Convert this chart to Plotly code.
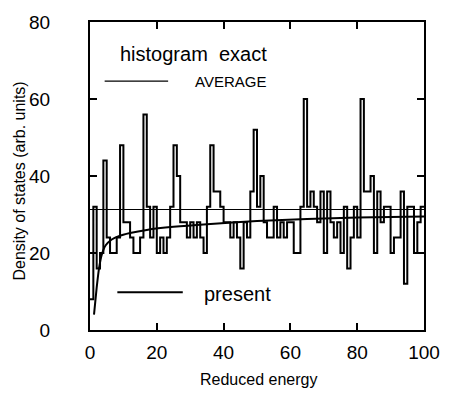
import plotly.graph_objects as go
import numpy as np

# ---- data ----
bin_edges = list(range(0, 101))  # reduced energy bin edges (bin width 1)
histogram_exact = [
    8, 32, 16, 20, 44, 24, 20, 20, 24, 48,
    28, 28, 24, 20, 20, 24, 56, 32, 24, 32,
    20, 24, 20, 24, 32, 48, 40, 28, 28, 24,
    28, 24, 28, 24, 20, 32, 48, 36, 36, 32,
    28, 28, 24, 28, 24, 16, 28, 24, 36, 52,
    32, 40, 28, 24, 24, 32, 24, 28, 24, 28,
    28, 20, 20, 32, 60, 32, 36, 32, 28, 36,
    20, 36, 28, 24, 28, 20, 32, 16, 24, 32,
    24, 60, 36, 36, 40, 20, 36, 28, 32, 32,
    20, 24, 24, 36, 12, 32, 32, 20, 28, 32,
]
average_value = 31.3
present_x = [1.2, 1.6, 2.0, 2.7, 3.5, 4.7, 6.5, 8.6, 12, 17, 25, 35, 50, 65, 80, 100]
present_y = [4.0, 7.5, 11.0, 16.0, 19.5, 22.0, 23.5, 24.4, 25.2, 26.0, 26.8, 27.5, 28.3, 28.8, 29.2, 29.5]
x_ticks = [0, 20, 40, 60, 80, 100]
y_ticks = [0, 20, 40, 60, 80]

FONT = "Liberation Sans, Arial, Helvetica, sans-serif"

fig = go.Figure()

# histogram (step)
fig.add_trace(go.Scatter(
    x=bin_edges,
    y=histogram_exact + [histogram_exact[-1]],
    mode="lines", line=dict(color="black", width=2, shape="hv"),
    showlegend=False, hoverinfo="skip"))

# average line
fig.add_trace(go.Scatter(
    x=[bin_edges[0], bin_edges[-1]], y=[average_value, average_value],
    mode="lines", line=dict(color="black", width=1.2),
    showlegend=False, hoverinfo="skip"))

# present curve
fig.add_trace(go.Scatter(
    x=present_x, y=present_y, mode="lines",
    line=dict(color="black", width=2, shape="spline", smoothing=0.6),
    showlegend=False, hoverinfo="skip"))

L, R, T, B = 90, 20, 12, 76
W, H = 452, 406

def px2paper_x(px):
    return (px - L) / (W - L - R)

def px2paper_y(py):
    return (H - B - py) / (H - T - B)

shapes = [
    dict(type="line", xref="paper", yref="paper",
         x0=px2paper_x(105), x1=px2paper_x(170), y0=px2paper_y(73), y1=px2paper_y(73),
         line=dict(color="black", width=1.2)),
    dict(type="line", xref="paper", yref="paper",
         x0=px2paper_x(118), x1=px2paper_x(185), y0=px2paper_y(291), y1=px2paper_y(291),
         line=dict(color="black", width=2)),
]

annotations = [
    dict(text="histogram  exact", xref="paper", yref="paper",
         x=px2paper_x(119), y=px2paper_y(45), xanchor="left", yanchor="middle",
         showarrow=False, font=dict(family=FONT, size=20, color="black")),
    dict(text="AVERAGE", xref="paper", yref="paper",
         x=px2paper_x(195), y=px2paper_y(73), xanchor="left", yanchor="middle",
         showarrow=False, font=dict(family=FONT, size=15, color="black")),
    dict(text="present", xref="paper", yref="paper",
         x=px2paper_x(205), y=px2paper_y(293), xanchor="left", yanchor="middle",
         showarrow=False, font=dict(family=FONT, size=20, color="black")),
    dict(text="Reduced energy", xref="paper", yref="paper",
         x=px2paper_x(263), y=px2paper_y(381), xanchor="center", yanchor="middle",
         showarrow=False, font=dict(family=FONT, size=16, color="black")),
    dict(text="Density of states (arb. units)", xref="paper", yref="paper",
         x=px2paper_x(18), y=px2paper_y(176), xanchor="center", yanchor="middle",
         textangle=-90, showarrow=False, font=dict(family=FONT, size=16, color="black")),
]

axis_common = dict(
    showgrid=False, zeroline=False, showline=True, linecolor="black", linewidth=2,
    mirror="ticks", ticks="inside", ticklen=7, tickwidth=1.5, tickcolor="black",
    tickfont=dict(family=FONT, size=19, color="black"),
)

fig.update_layout(
    width=W, height=H,
    margin=dict(l=L, r=R, t=T, b=B),
    paper_bgcolor="white", plot_bgcolor="white",
    xaxis=dict(range=[0, 100], tickvals=x_ticks, ticklabelstandoff=4, **axis_common),
    yaxis=dict(range=[0, 80], tickvals=y_ticks, ticklabelstandoff=34, **axis_common),
    shapes=shapes, annotations=annotations,
    showlegend=False,
)

fig.write_html("out.html")
